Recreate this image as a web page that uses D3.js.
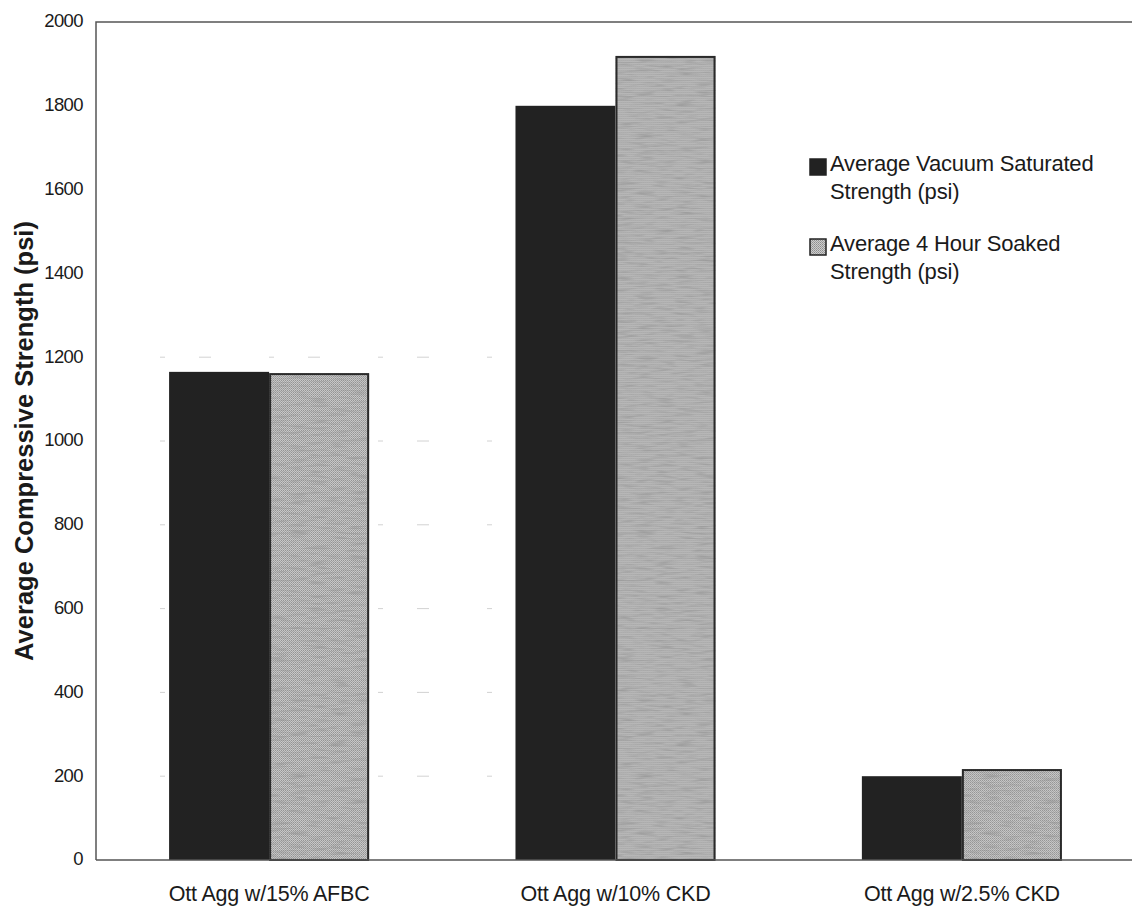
<!DOCTYPE html>
<html>
<head>
<meta charset="utf-8">
<script src="https://cdn.jsdelivr.net/npm/d3@7/dist/d3.min.js"></script>
<style>
  html, body { margin: 0; padding: 0; background: #fff; }
  svg { display: block; font-family: "Liberation Sans", Arial, sans-serif; }
</style>
</head>
<body>
<svg id="chart" width="1132" height="910"></svg>
<script>
// Mix designs and the two strength measurements for each
const categories = ["Ott Agg w/15% AFBC", "Ott Agg w/10% CKD", "Ott Agg w/2.5% CKD"];
const seriesNames = ["Average Vacuum Saturated Strength (psi)", "Average 4 Hour Soaked Strength (psi)"];
const vacuumSaturated = [1165, 1800, 200];
const fourHourSoaked = [1162, 1919, 217];
const yTicks = [0, 200, 400, 600, 800, 1000, 1200, 1400, 1600, 1800, 2000];
const yTitle = "Average Compressive Strength (psi)";

const svg = d3.select("#chart");
const W = 1132, H = 910;
const plot = { left: 96, top: 22, bottom: 860, right: 1135 };

// Fills: solid near-black and a dithered gray texture
const defs = svg.append("defs");
const pat = defs.append("pattern").attr("id", "soakFill")
  .attr("patternUnits", "userSpaceOnUse").attr("width", 2).attr("height", 2);
pat.append("rect").attr("width", 2).attr("height", 2).attr("fill", "#cdcdcd");
pat.append("rect").attr("width", 1).attr("height", 1).attr("fill", "#8e8e8e");
pat.append("rect").attr("x", 1).attr("y", 1).attr("width", 1).attr("height", 1).attr("fill", "#a0a0a0");

const grain = defs.append("filter").attr("id", "grain")
  .attr("x", 0).attr("y", 0).attr("width", 1).attr("height", 1);
grain.append("feTurbulence").attr("type", "fractalNoise")
  .attr("baseFrequency", "0.05 0.4").attr("numOctaves", 2).attr("seed", 7).attr("result", "noise");
grain.append("feColorMatrix").attr("in", "noise").attr("type", "matrix")
  .attr("values", "0 0 0 0 0.3  0 0 0 0 0.3  0 0 0 0 0.3  1.8 0 0 0 -0.85")
  .attr("result", "streaks");
grain.append("feComposite").attr("in", "streaks").attr("in2", "SourceAlpha").attr("operator", "in");

// Scales
const x0 = d3.scaleBand().domain(categories)
  .range([plot.left, plot.right]).paddingInner(0.4225).paddingOuter(0.211);
const x1 = d3.scaleBand().domain([0, 1]).range([0, x0.bandwidth()]);
const y = d3.scaleLinear().domain([0, 2000]).range([plot.bottom, plot.top]);

// Faint broken gridlines
svg.append("g").selectAll("line").data(yTicks.filter(t => t > 0 && t < 1400)).join("line")
  .attr("x1", plot.left + 64).attr("x2", plot.right - 400)
  .attr("y1", d => y(d)).attr("y2", d => y(d))
  .attr("stroke", "#d2d2d2").attr("stroke-width", 1)
  .attr("stroke-dasharray", "5 34 12 58");

// Bars
const rows = categories.map((c, i) => ({ cat: c, vals: [vacuumSaturated[i], fourHourSoaked[i]] }));
const groups = svg.append("g").selectAll("g").data(rows).join("g")
  .attr("transform", d => `translate(${x0(d.cat)},0)`);

groups.append("rect")
  .attr("x", x1(0)).attr("width", x1.bandwidth())
  .attr("y", d => y(d.vals[0])).attr("height", d => y(0) - y(d.vals[0]))
  .attr("fill", "#222");

groups.append("rect")
  .attr("x", x1(1)).attr("width", x1.bandwidth())
  .attr("y", d => y(d.vals[1])).attr("height", d => y(0) - y(d.vals[1]))
  .attr("fill", "url(#soakFill)");
groups.append("rect")
  .attr("x", x1(1)).attr("width", x1.bandwidth())
  .attr("y", d => y(d.vals[1])).attr("height", d => y(0) - y(d.vals[1]))
  .attr("fill", "#000").attr("filter", "url(#grain)");
groups.append("rect")
  .attr("x", x1(1) + 1).attr("width", x1.bandwidth() - 2)
  .attr("y", d => y(d.vals[1]) + 1).attr("height", d => y(0) - y(d.vals[1]) - 1)
  .attr("fill", "none").attr("stroke", "#2a2a2a").attr("stroke-width", 2);

// Plot frame: left, top and baseline
const frame = svg.append("g").attr("stroke", "#555").attr("stroke-width", 1.5).attr("fill", "none");
frame.append("path").attr("d", `M${plot.left},${plot.bottom}V${plot.top}H${W}`);
frame.append("path").attr("d", `M${plot.left},${plot.bottom}H${W}`);

// Y axis labels
const yAxis = svg.append("g").attr("transform", `translate(${plot.left},0)`)
  .call(d3.axisLeft(y).tickValues(yTicks).tickSize(0).tickPadding(13).tickFormat(d3.format("d")));
yAxis.select(".domain").remove();
yAxis.selectAll("text")
  .attr("font-family", "'Liberation Sans', Arial, sans-serif")
  .attr("font-size", 18.5).attr("letter-spacing", -0.6).attr("fill", "#1a1a1a")
  .attr("dy", "0.26em");

// X category labels
svg.append("g").selectAll("text").data(categories).join("text")
  .attr("x", d => x0(d) + x0.bandwidth() / 2)
  .attr("y", 901)
  .attr("text-anchor", "middle")
  .attr("font-size", 21.5).attr("letter-spacing", -0.2).attr("fill", "#1a1a1a")
  .text(d => d);

// Y axis title
svg.append("text")
  .attr("transform", `translate(33,441) rotate(-90)`)
  .attr("text-anchor", "middle")
  .attr("font-size", 25.5).attr("font-weight", "bold").attr("fill", "#1a1a1a")
  .text(yTitle);

// Legend
const legendItems = [
  { lines: ["Average Vacuum Saturated", "Strength (psi)"], fill: "#222", top: 159 },
  { lines: ["Average 4 Hour Soaked", "Strength (psi)"], fill: "url(#soakFill)", top: 239 }
];
const lg = svg.append("g").selectAll("g").data(legendItems).join("g");
lg.append("rect")
  .attr("x", 810).attr("y", d => d.top).attr("width", 16).attr("height", 16)
  .attr("fill", d => d.fill)
  .attr("stroke", "#222").attr("stroke-width", 1.5);
lg.each(function (d) {
  const t = d3.select(this).append("text")
    .attr("x", 830).attr("y", d.top + 12)
    .attr("font-size", 22).attr("letter-spacing", -0.2).attr("fill", "#1a1a1a");
  t.selectAll("tspan").data(d.lines).join("tspan")
    .attr("x", 830).attr("dy", (l, j) => j === 0 ? 0 : 28)
    .text(l => l);
});
</script>
</body>
</html>
